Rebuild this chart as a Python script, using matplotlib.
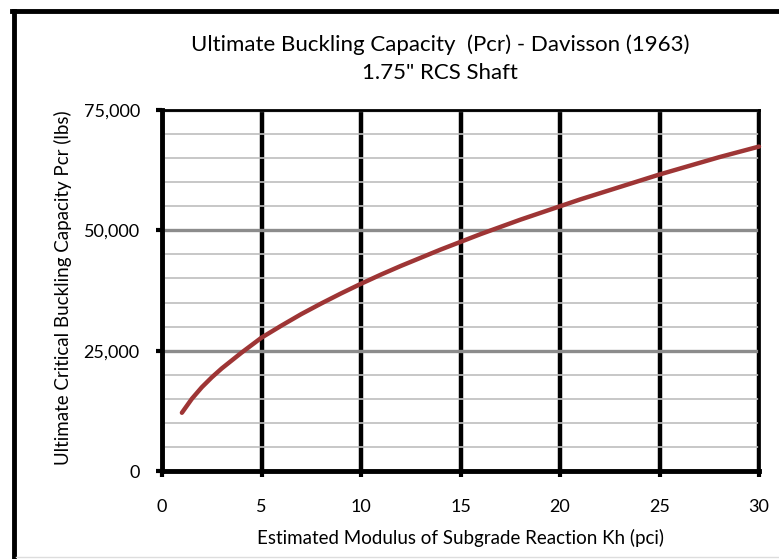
import matplotlib
matplotlib.use("Agg")
import matplotlib.pyplot as plt
from matplotlib.lines import Line2D
from matplotlib.ticker import MultipleLocator, FuncFormatter

kh = [1, 1.5, 2, 2.5, 3, 4, 5, 6, 7, 8, 9, 10,
      11, 12, 13, 14, 15, 16, 17, 18, 19, 20,
      21, 22, 23, 24, 25, 26, 27, 28, 29, 30]
pcr = [12100, 15000, 17400, 19450, 21300, 24600, 27700, 30200, 32600, 34800, 36900, 38900,
       40800, 42600, 44300, 46000, 47600, 49200, 50700, 52200, 53600, 55000,
       56400, 57700, 59000, 60300, 61600, 62800, 64000, 65200, 66300, 67400]

title1 = "Ultimate Buckling Capacity  (Pcr) - Davisson (1963)"
title2 = '1.75" RCS Shaft'
xlabel = "Estimated Modulus of Subgrade Reaction Kh (pci)"
ylabel = "Ultimate Critical Buckling Capacity Pcr (lbs)"

plt.rcParams['font.family'] = ['Lato', 'DejaVu Sans']
W, H = 779, 559
fig = plt.figure(figsize=(W/100, H/100), dpi=100)
ax = fig.add_axes([162/W, 1-471/H, (759-162)/W, (471-110)/H])

ax.set_xlim(0, 30)
ax.set_ylim(0, 75000)
ax.xaxis.set_major_locator(MultipleLocator(5))
ax.yaxis.set_major_locator(MultipleLocator(25000))
ax.yaxis.set_minor_locator(MultipleLocator(5000))
ax.yaxis.set_major_formatter(FuncFormatter(lambda v, p: f"{int(v):,}"))

ax.grid(which='minor', axis='y', color='#bdbdbd', lw=1.2)
ax.grid(which='major', axis='y', color='#8c8c8c', lw=2.4)
ax.grid(which='major', axis='x', color='black', lw=3.2)
ax.set_axisbelow(True)

for s in ['left', 'bottom']:
    ax.spines[s].set_linewidth(3.5)
for s in ['top', 'right']:
    ax.spines[s].set_linewidth(2)
ax.tick_params(axis='both', which='major', length=4, width=3, direction='out',
               labelsize=13, colors='black')
ax.tick_params(axis='y', which='minor', length=0)
ax.tick_params(axis='y', pad=12)
ax.tick_params(axis='x', pad=16)

ax.plot(kh, pcr, color='#9e3535', lw=3.2, solid_capstyle='round', zorder=5, clip_on=False)

fig.text(440/W, 1-45/H, title1, ha='center', va='center', fontsize=16)
fig.text(440/W, 1-73/H, title2, ha='center', va='center', fontsize=16)
fig.text(460/W, 1-538/H, xlabel, ha='center', va='center', fontsize=13.5)
fig.text(63/W, 1-288/H, ylabel, ha='center', va='center', rotation=90, fontsize=13.5)

# outer frame
fig.add_artist(Line2D([14/W, 14/W], [0, 1-11/H], transform=fig.transFigure, color='black', lw=3.5))
fig.add_artist(Line2D([12/W, 1], [1-11/H, 1-11/H], transform=fig.transFigure, color='black', lw=3.5))
fig.add_artist(Line2D([16/W, 1], [1-557/H, 1-557/H], transform=fig.transFigure, color='#dddddd', lw=1))

fig.savefig("out.png", dpi=100)
